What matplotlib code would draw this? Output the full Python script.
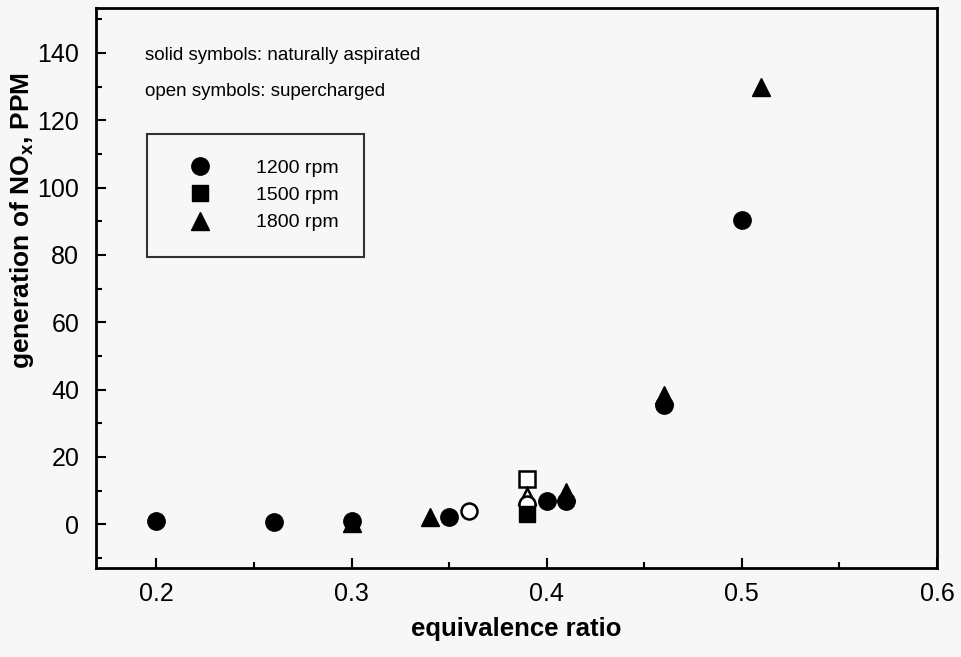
import matplotlib
matplotlib.use("Agg")
import matplotlib.pyplot as plt
from matplotlib.ticker import MultipleLocator

plt.rcParams['font.family'] = ['Liberation Sans', 'DejaVu Sans']
plt.rcParams['mathtext.fontset'] = 'custom'
plt.rcParams['mathtext.rm'] = 'Liberation Sans:bold'
plt.rcParams['mathtext.it'] = 'Liberation Sans:bold'

# 1200 rpm
circ_solid_x = [0.20, 0.26, 0.30, 0.35, 0.40, 0.41, 0.46, 0.50]
circ_solid_y = [1.0, 0.8, 1.0, 2.0, 7.0, 7.0, 35.5, 90.5]
circ_open_x = [0.36, 0.39]
circ_open_y = [4.0, 6.0]
# 1500 rpm
sq_solid_x = [0.39]
sq_solid_y = [3.0]
sq_open_x = [0.39]
sq_open_y = [13.5]
# 1800 rpm
tri_solid_x = [0.30, 0.34, 0.41, 0.46, 0.51]
tri_solid_y = [0.3, 2.0, 9.5, 38.5, 130.0]
tri_open_x = [0.39]
tri_open_y = [8.5]

labels = ['1200 rpm', '1500 rpm', '1800 rpm']

bg = '#f7f7f7'
fig = plt.figure(figsize=(9.61, 6.57), dpi=100, facecolor=bg)
ax = fig.add_axes([0.0999, 0.1355, 0.8751, 0.8525], facecolor=bg)

# open symbols (supercharged)
ax.plot(sq_open_x, sq_open_y, 's', ms=11, mfc='white', mec='black', mew=1.8, ls='none')
ax.plot(tri_open_x, tri_open_y, '^', ms=12, mfc='white', mec='black', mew=1.8, ls='none')
ax.plot(circ_open_x, circ_open_y, 'o', ms=11.5, mfc='white', mec='black', mew=1.8, ls='none')

# solid symbols (naturally aspirated)
h_sq, = ax.plot(sq_solid_x, sq_solid_y, 's', ms=11, color='black', ls='none')
h_tri, = ax.plot(tri_solid_x, tri_solid_y, '^', ms=13.5, color='black', ls='none')
h_circ, = ax.plot(circ_solid_x, circ_solid_y, 'o', ms=12.5, color='black', ls='none')

ax.set_xlim(0.169, 0.6)
ax.set_ylim(-13, 153.4)
ax.xaxis.set_major_locator(MultipleLocator(0.1))
ax.xaxis.set_minor_locator(MultipleLocator(0.05))
ax.yaxis.set_major_locator(MultipleLocator(20))
ax.yaxis.set_minor_locator(MultipleLocator(10))
ax.tick_params(which='both', direction='in', top=False, right=False,
               width=1.5, labelsize=18)
ax.tick_params(axis='x', pad=10)
ax.tick_params(axis='y', pad=12)
ax.tick_params(which='major', length=7)
ax.tick_params(which='minor', length=4)
for s in ax.spines.values():
    s.set_linewidth(2.0)

ax.set_xlabel('equivalence ratio', fontsize=18.5, fontweight='bold', labelpad=8)
ax.set_ylabel('generation of NO$_x$, PPM', fontsize=19, fontweight='bold')
ax.yaxis.set_label_coords(-0.071, 0.62)

ax.text(0.058, 0.915, 'solid symbols: naturally aspirated', transform=ax.transAxes,
        fontsize=13.5, va='center', ha='left')
ax.text(0.058, 0.851, 'open symbols: supercharged', transform=ax.transAxes,
        fontsize=13.5, va='center', ha='left')

leg = ax.legend([h_circ, h_sq, h_tri], labels, loc='upper left',
                bbox_to_anchor=(0.0606, 0.775), fontsize=14,
                frameon=True, fancybox=False, edgecolor='black',
                borderpad=1.3, labelspacing=0.5, handlelength=2.9,
                handletextpad=1.4, borderaxespad=0, markerscale=1.0)
leg.get_frame().set_linewidth(1.5)
leg.get_frame().set_facecolor(bg)

fig.savefig('out.png', dpi=100, facecolor=bg)
